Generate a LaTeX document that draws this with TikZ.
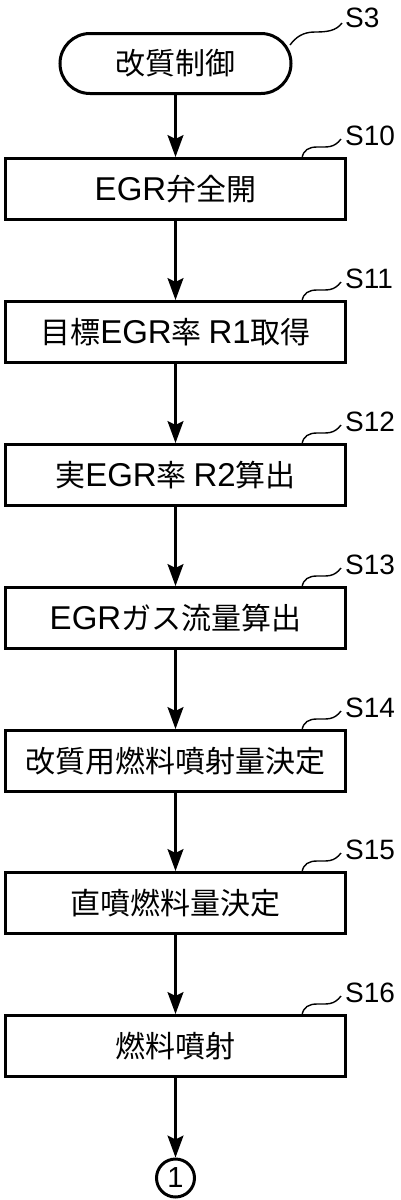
\documentclass[tikz,border=0pt]{standalone}
\usepackage{fontspec}
\newfontfamily\cjk{Noto Sans CJK JP}
\newfontfamily\lat{Liberation Sans}
\newcommand\ltn[1]{{\lat\fontsize{33}{36}\selectfont #1}}
\usetikzlibrary{arrows.meta,calc}
\begin{document}
\begin{tikzpicture}[x=1pt,y=-1pt,
  stepbox/.style={draw, line width=3pt, minimum width=340pt, minimum height=61pt, inner sep=0pt,
    font=\cjk\fontsize{30}{36}\selectfont},
  termbox/.style={draw, line width=3pt, rounded corners=30pt, minimum width=231pt, minimum height=60pt,
    inner sep=0pt, font=\cjk\fontsize{30}{36}\selectfont},
  conn/.style={draw, circle, line width=3pt, minimum size=38pt, inner sep=0pt,
    font=\lat\fontsize{29}{30}\selectfont},
  flow/.style={line width=2.2pt, -{Stealth[length=22pt,width=16pt,inset=4pt]}},
  lead/.style={line width=1.4pt},
  slabel/.style={anchor=west, inner sep=0pt, font=\lat\fontsize{28}{30}\selectfont}]
\useasboundingbox (0,0) rectangle (400,1200);

% terminal
\node[termbox] (t) at (175.5,63.5) {改質制御};
\node[slabel] (l3) at (345,18) {S3};
\coordinate (a3) at (290,45);
\draw[lead] (a3) .. controls (296,37) and (303,32) .. (315,32)
  .. controls (327,32) and (336,31) .. ($(l3.west)+(-3,5)$);

% process boxes
\foreach \n/\T/\txt in {10/157/{\ltn{EGR}弁全開},
                        11/300/{目標\ltn{EGR}率 \ltn{R1}取得},
                        12/443/{実\ltn{EGR}率 \ltn{R2}算出},
                        13/586/{\ltn{EGR}ガス流量算出},
                        14/729/{改質用燃料噴射量決定},
                        15/871/{直噴燃料量決定},
                        16/1014/{燃料噴射}} {
  \node[stepbox] (b\n) at (175.5,\T+32) {\txt};
  \node[slabel] (l\n) at (345,\T-21) {S\n};
  \coordinate (a\n) at (302,\T+1.5);
  \draw[lead] (a\n) .. controls (303,\T-7) and (309,\T-10) .. (317,\T-10)
    .. controls (328,\T-10) and (334,\T-9) .. ($(l\n.west)+(-4,3)$);
}

% connector circle
\node[conn] (c1) at (175.5,1178) {1};

% flow arrows
\draw[flow] (t) -- (b10);
\draw[flow] (b10) -- (b11);
\draw[flow] (b11) -- (b12);
\draw[flow] (b12) -- (b13);
\draw[flow] (b13) -- (b14);
\draw[flow] (b14) -- (b15);
\draw[flow] (b15) -- (b16);
\draw[flow] (b16) -- (c1);
\end{tikzpicture}
\end{document}
